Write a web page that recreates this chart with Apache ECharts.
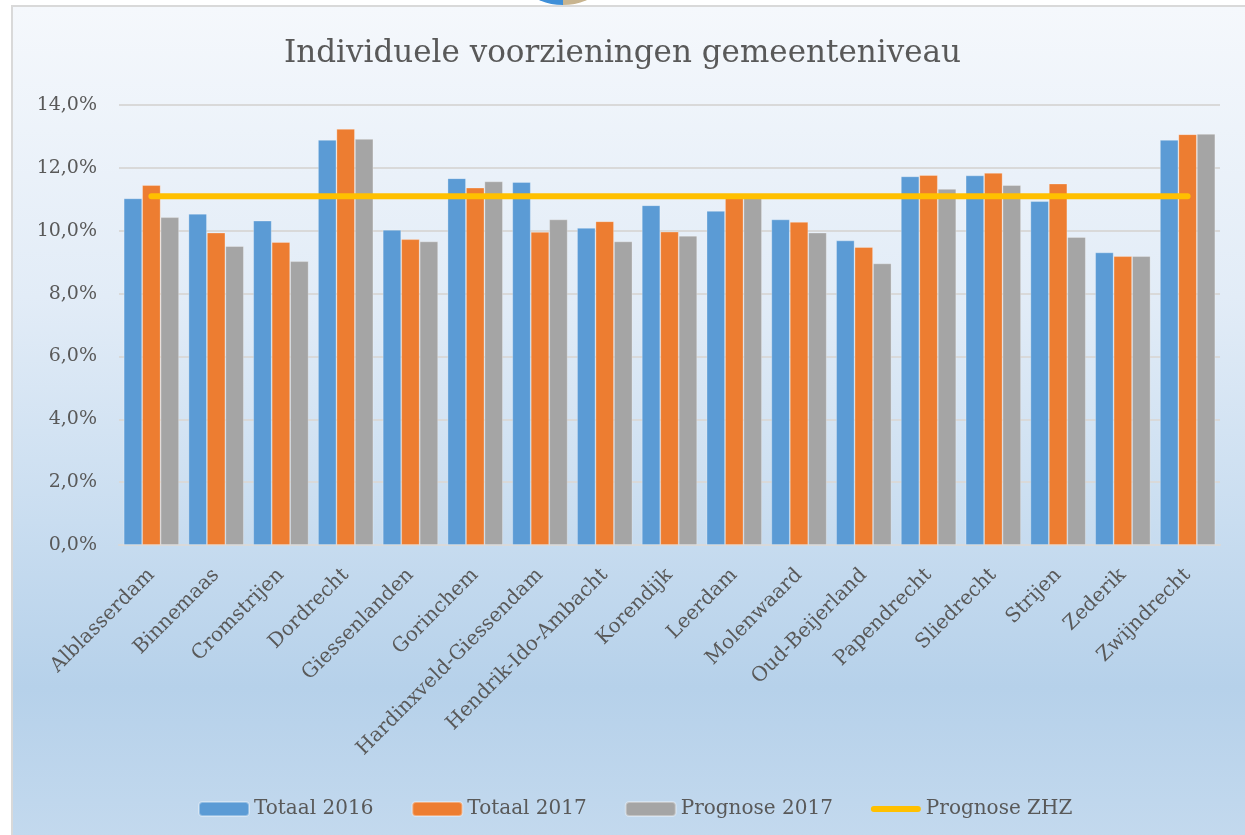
<!DOCTYPE html>
<html>
<head>
<meta charset="utf-8">
<title>Individuele voorzieningen gemeenteniveau</title>
<script src="https://cdn.jsdelivr.net/npm/echarts@6/dist/echarts.min.js"></script>
<style>
  html, body { margin: 0; padding: 0; background: #fff; overflow: hidden; }
  #logo {
    position: absolute; left: 503px; top: -115px; width: 120px; height: 120px;
    border-radius: 50%;
    background: linear-gradient(to right, #3f8fd8 50%, #c8b48f 50%);
  }
  #frame {
    position: absolute; left: 11px; top: 5px; width: 1234px; height: 830px;
    border-left: 2px solid #d9d9d9; border-top: 2px solid #d9d9d9;
    background: linear-gradient(to bottom, #f5f8fc 0%, #e2ecf7 35%, #c9ddf0 62%, #b6d1ea 82%, #c3d9ee 100%);
  }
  #chart { position: absolute; left: 0; top: 0; width: 1245px; height: 835px; }
</style>
</head>
<body>
<div id="logo"></div>
<div id="frame"></div>
<div id="chart"></div>
<script>
const gemeenten = [
    'Alblasserdam', 'Binnemaas', 'Cromstrijen', 'Dordrecht', 'Giessenlanden',
    'Gorinchem', 'Hardinxveld-Giessendam', 'Hendrik-Ido-Ambacht', 'Korendijk',
    'Leerdam', 'Molenwaard', 'Oud-Beijerland', 'Papendrecht', 'Sliedrecht',
    'Strijen', 'Zederik', 'Zwijndrecht'
];
// percentages
const totaal2016 = [11.03, 10.54, 10.32, 12.89, 10.03, 11.67, 11.55, 10.09, 10.81, 10.63, 10.36, 9.69, 11.73, 11.76, 10.94, 9.31, 12.89];
const totaal2017 = [11.45, 9.94, 9.64, 13.24, 9.73, 11.37, 9.96, 10.30, 9.97, 11.08, 10.28, 9.48, 11.77, 11.84, 11.50, 9.19, 13.07];
const prognose2017 = [10.43, 9.51, 9.03, 12.92, 9.66, 11.57, 10.36, 9.66, 9.84, 11.05, 9.94, 8.96, 11.33, 11.45, 9.80, 9.19, 13.08];
const prognoseZHZ = [11.1, 11.1, 11.1, 11.1, 11.1, 11.1, 11.1, 11.1, 11.1, 11.1, 11.1, 11.1, 11.1, 11.1, 11.1, 11.1, 11.1];

const font = "'DejaVu Serif', 'Liberation Serif', serif";
const textColor = '#595959';
// thick line with round ends for the legend
const lineIcon = 'path://M3,0 L47,0 A3,3 0 0 1 47,6 L3,6 A3,3 0 0 1 3,0 Z';

const chart = echarts.init(document.getElementById('chart'));

const bar = (name, data, color) => ({
    name: name,
    type: 'bar',
    data: data,
    barGap: 0,
    barCategoryGap: '14.5%',
    itemStyle: { color: color, borderColor: 'rgba(255,255,255,0.35)', borderWidth: 0.8 }
});

chart.setOption({
    animation: false,
    title: {
        text: 'Individuele voorzieningen gemeenteniveau',
        left: 'center',
        top: 33,
        textStyle: { fontFamily: font, fontSize: 31, fontWeight: 'normal', color: textColor }
    },
    legend: {
        left: 193,
        top: 794,
        itemWidth: 50,
        itemHeight: 14,
        itemGap: 38,
        textStyle: { fontFamily: font, fontSize: 20, color: textColor },
        data: [
            'Totaal 2016', 'Totaal 2017', 'Prognose 2017',
            { name: 'Prognose ZHZ', icon: lineIcon }
        ]
    },
    grid: { left: 119, right: 25, top: 105, bottom: 290 },
    xAxis: {
        type: 'category',
        data: gemeenten,
        axisLine: { lineStyle: { color: '#d9d9d9', width: 2 } },
        axisTick: { show: false },
        axisLabel: {
            interval: 0,
            rotate: 45,
            margin: 27,
            fontFamily: font,
            fontSize: 20,
            color: textColor
        }
    },
    yAxis: {
        type: 'value',
        min: 0,
        max: 14,
        interval: 2,
        axisLine: { show: false },
        axisTick: { show: false },
        splitLine: { lineStyle: { color: '#d9d9d9', width: 2 } },
        axisLabel: {
            margin: 22,
            fontFamily: font,
            fontSize: 19,
            color: textColor,
            formatter: (v) => v.toFixed(1).replace('.', ',') + '%'
        }
    },
    series: [
        bar('Totaal 2016', totaal2016, '#5b9bd5'),
        bar('Totaal 2017', totaal2017, '#ed7d31'),
        bar('Prognose 2017', prognose2017, '#a5a5a5'),
        {
            name: 'Prognose ZHZ',
            type: 'line',
            data: prognoseZHZ,
            symbol: 'none',
            z: 5,
            itemStyle: { color: '#ffc000' },
            lineStyle: { color: '#ffc000', width: 6, cap: 'round' }
        }
    ]
});
</script>
</body>
</html>
